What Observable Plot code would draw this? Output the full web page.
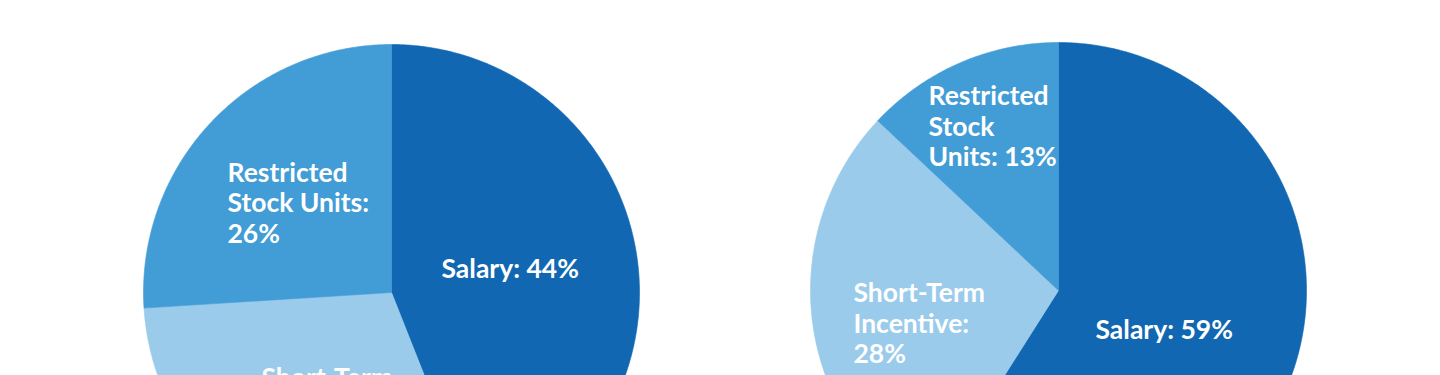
<!DOCTYPE html>
<html>
<head>
<meta charset="utf-8">
<script src="https://cdn.jsdelivr.net/npm/d3@7"></script>
<script src="https://cdn.jsdelivr.net/npm/@observablehq/plot@0.6"></script>
<style>
  html, body { margin: 0; padding: 0; background: #ffffff; }
  #chart svg { display: block; }
</style>
</head>
<body>
<div id="chart"></div>
<script>
// ---- data ----
const categories = ["Salary", "Short-Term Incentive", "Restricted Stock Units"];
const leftValues = [44, 30, 26];
const rightValues = [59, 28, 13];
const leftLabels = ["Salary: 44%", "Short-Term\nIncentive: 30%", "Restricted\nStock Units:\n26%"];
const rightLabels = ["Salary: 59%", "Short-Term\nIncentive:\n28%", "Restricted\nStock\nUnits: 13%"];
const colors = ["#1167b1", "#9acbeb", "#429cd6"];

// ---- layout ----
const W = 1440, H = 375, R = 248, FS = 26.5;
const pies = [
  {id: "left", cx: 391, cy: 292, values: leftValues, labels: leftLabels,
   labelPos: [[441, 275], [261, 384], [227, 178.5]]},
  {id: "right", cx: 1058, cy: 290, values: rightValues, labels: rightLabels,
   labelPos: [[1095, 336], [853, 299], [928, 102]]}
];

const pieGen = d3.pie().sort(null).value(d => d);
const slicePts = [];
const labelRows = [];
for (const p of pies) {
  pieGen(p.values).forEach((a, i) => {
    const key = p.id + "-" + i;
    const pts = [[p.cx, p.cy]];
    const n = Math.max(2, Math.ceil((a.endAngle - a.startAngle) / (Math.PI / 360)));
    for (let k = 0; k <= n; k++) {
      const t = a.startAngle + (a.endAngle - a.startAngle) * k / n;
      pts.push([p.cx + R * Math.sin(t), p.cy - R * Math.cos(t)]);
    }
    pts.push([p.cx, p.cy]);
    for (const [x, y] of pts) slicePts.push({key, category: categories[i], x, y});
    labelRows.push({text: p.labels[i], x: p.labelPos[i][0], y: p.labelPos[i][1] - 0.71 * FS});
  });
}

const chart = Plot.plot({
  width: W,
  height: H,
  margin: 0,
  style: {background: "#ffffff", fontFamily: "Lato, 'Open Sans', sans-serif"},
  x: {domain: [0, W], range: [0, W], axis: null},
  y: {domain: [0, H], range: [0, H], axis: null},
  color: {domain: categories, range: colors},
  marks: [
    Plot.line(slicePts, {x: "x", y: "y", z: "key", fill: "category", stroke: "category", strokeWidth: 0.6, curve: "linear"}),
    Plot.text(labelRows, {x: "x", y: "y", text: "text", textAnchor: "start", lineAnchor: "top",
      lineHeight: 1.15, fill: "white", fontSize: FS, fontWeight: 700})
  ]
});
document.getElementById("chart").appendChild(chart);
</script>
</body>
</html>
